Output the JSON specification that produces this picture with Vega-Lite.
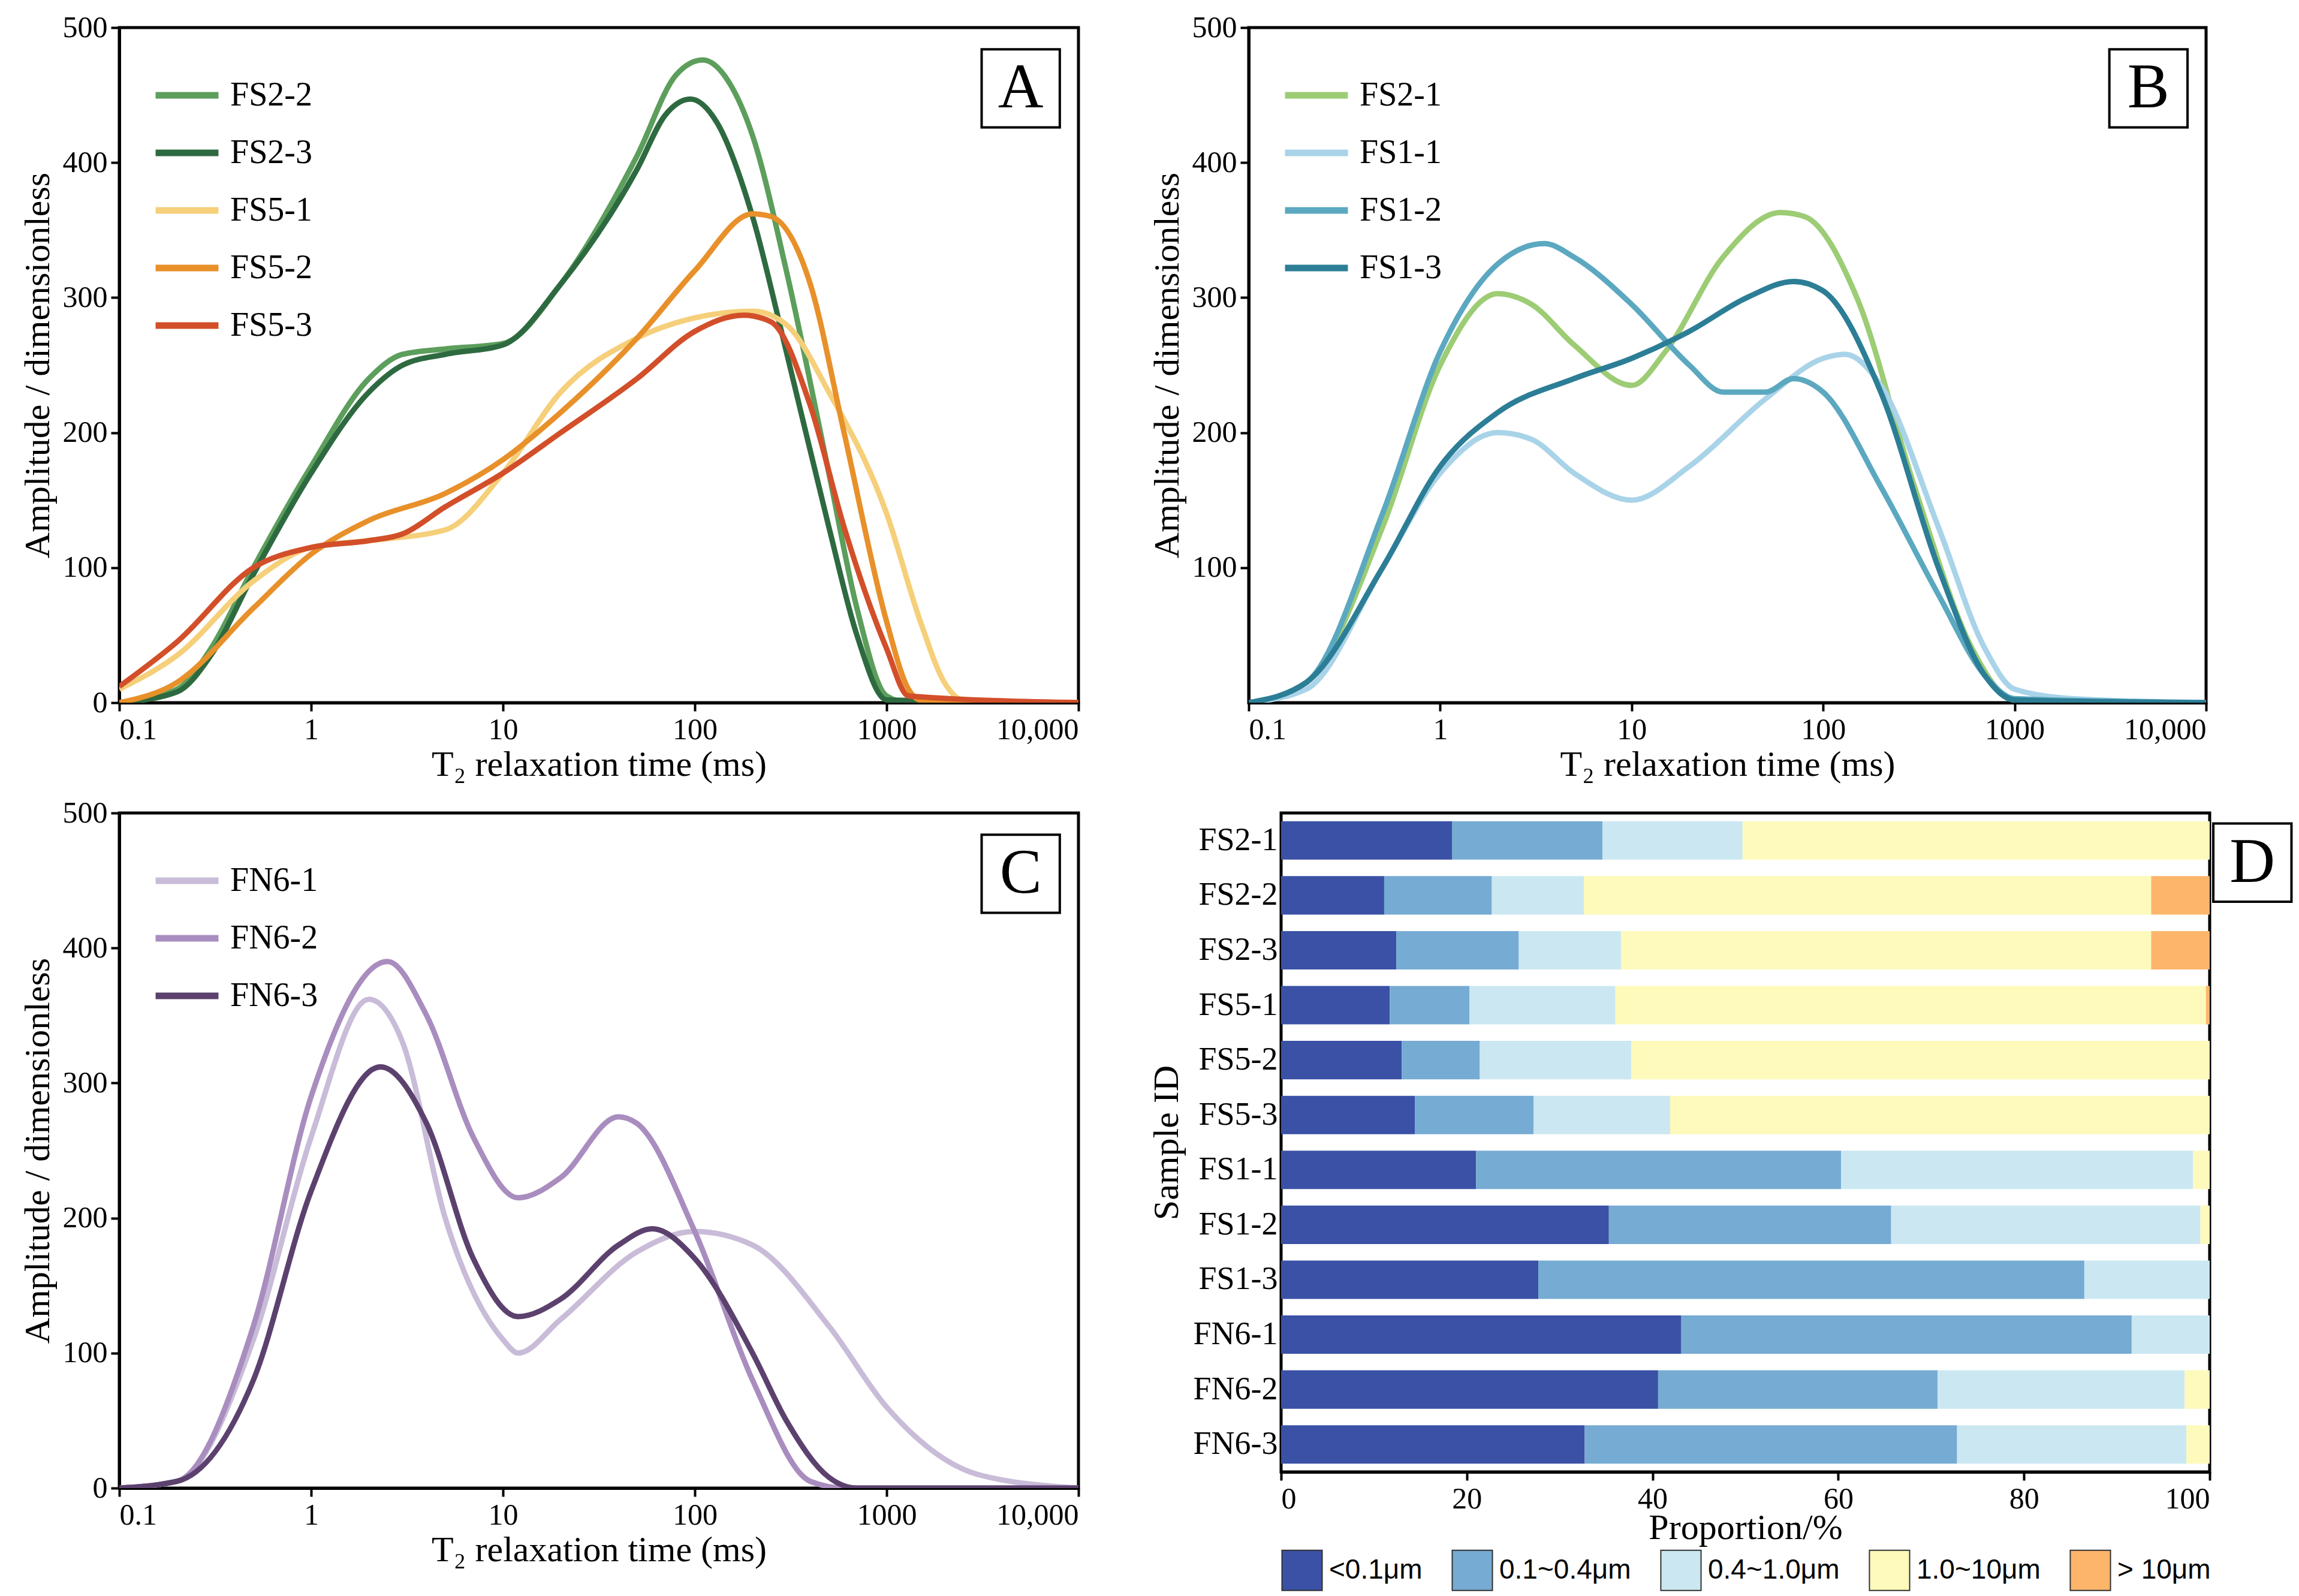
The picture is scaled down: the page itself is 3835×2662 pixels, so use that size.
{
  "$schema": "https://vega.github.io/schema/vega-lite/v6.json",
  "background": "white",
  "padding": {"left": 30, "top": 18, "right": 20, "bottom": 5},
  "config": {
    "font": "Liberation Serif",
    "view": {"stroke": "black", "strokeWidth": 5},
    "axis": {"grid": false, "domainColor": "black", "domainWidth": 5, "tickColor": "black", "tickWidth": 4, "tickSize": 14, "labelFontSize": 50, "titleFontSize": 60, "labelColor": "black", "titleColor": "black", "titleFontWeight": "normal", "labelPadding": 6},
    "legend": {"labelFontSize": 56, "labelColor": "black", "titleFontSize": 1, "labelLimit": 0}
  },
  "datasets": {
    "curves": [
      {"s":"FS2-2","t":0.1,"a":0},{"s":"FS2-2","t":0.2,"a":10},{"s":"FS2-2","t":0.3,"a":40},{"s":"FS2-2","t":0.5,"a":100},{"s":"FS2-2","t":1,"a":175},{"s":"FS2-2","t":2,"a":240},{"s":"FS2-2","t":3,"a":258},{"s":"FS2-2","t":5,"a":262},{"s":"FS2-2","t":10,"a":266},{"s":"FS2-2","t":20,"a":310},{"s":"FS2-2","t":50,"a":405},{"s":"FS2-2","t":80,"a":465},{"s":"FS2-2","t":110,"a":476},{"s":"FS2-2","t":150,"a":460},{"s":"FS2-2","t":200,"a":420},{"s":"FS2-2","t":300,"a":320},{"s":"FS2-2","t":500,"a":170},{"s":"FS2-2","t":700,"a":70},{"s":"FS2-2","t":1000,"a":5},{"s":"FS2-2","t":1300,"a":0},{"s":"FS2-2","t":10000,"a":0},
      {"s":"FS2-3","t":0.1,"a":0},{"s":"FS2-3","t":0.2,"a":8},{"s":"FS2-3","t":0.3,"a":35},{"s":"FS2-3","t":0.5,"a":95},{"s":"FS2-3","t":1,"a":170},{"s":"FS2-3","t":2,"a":230},{"s":"FS2-3","t":3,"a":250},{"s":"FS2-3","t":5,"a":258},{"s":"FS2-3","t":10,"a":265},{"s":"FS2-3","t":20,"a":310},{"s":"FS2-3","t":50,"a":395},{"s":"FS2-3","t":70,"a":435},{"s":"FS2-3","t":95,"a":447},{"s":"FS2-3","t":130,"a":430},{"s":"FS2-3","t":200,"a":360},{"s":"FS2-3","t":300,"a":260},{"s":"FS2-3","t":500,"a":130},{"s":"FS2-3","t":700,"a":50},{"s":"FS2-3","t":1000,"a":2},{"s":"FS2-3","t":10000,"a":0},
      {"s":"FS5-1","t":0.1,"a":10},{"s":"FS5-1","t":0.2,"a":35},{"s":"FS5-1","t":0.5,"a":90},{"s":"FS5-1","t":1,"a":115},{"s":"FS5-1","t":2,"a":120},{"s":"FS5-1","t":5,"a":128},{"s":"FS5-1","t":10,"a":170},{"s":"FS5-1","t":20,"a":230},{"s":"FS5-1","t":50,"a":270},{"s":"FS5-1","t":100,"a":285},{"s":"FS5-1","t":200,"a":290},{"s":"FS5-1","t":300,"a":280},{"s":"FS5-1","t":500,"a":230},{"s":"FS5-1","t":1000,"a":140},{"s":"FS5-1","t":1500,"a":60},{"s":"FS5-1","t":2000,"a":15},{"s":"FS5-1","t":2500,"a":2},{"s":"FS5-1","t":10000,"a":0},
      {"s":"FS5-2","t":0.1,"a":0},{"s":"FS5-2","t":0.2,"a":15},{"s":"FS5-2","t":0.5,"a":70},{"s":"FS5-2","t":1,"a":110},{"s":"FS5-2","t":2,"a":135},{"s":"FS5-2","t":5,"a":155},{"s":"FS5-2","t":10,"a":180},{"s":"FS5-2","t":20,"a":215},{"s":"FS5-2","t":50,"a":270},{"s":"FS5-2","t":100,"a":320},{"s":"FS5-2","t":200,"a":362},{"s":"FS5-2","t":250,"a":360},{"s":"FS5-2","t":400,"a":310},{"s":"FS5-2","t":600,"a":200},{"s":"FS5-2","t":1000,"a":60},{"s":"FS5-2","t":1300,"a":10},{"s":"FS5-2","t":1500,"a":2},{"s":"FS5-2","t":10000,"a":0},
      {"s":"FS5-3","t":0.1,"a":12},{"s":"FS5-3","t":0.2,"a":45},{"s":"FS5-3","t":0.5,"a":100},{"s":"FS5-3","t":1,"a":115},{"s":"FS5-3","t":2,"a":120},{"s":"FS5-3","t":3,"a":125},{"s":"FS5-3","t":5,"a":145},{"s":"FS5-3","t":10,"a":170},{"s":"FS5-3","t":20,"a":200},{"s":"FS5-3","t":50,"a":240},{"s":"FS5-3","t":100,"a":275},{"s":"FS5-3","t":180,"a":287},{"s":"FS5-3","t":250,"a":282},{"s":"FS5-3","t":400,"a":220},{"s":"FS5-3","t":600,"a":130},{"s":"FS5-3","t":1000,"a":40},{"s":"FS5-3","t":1300,"a":5},{"s":"FS5-3","t":10000,"a":0},
      {"s":"FS2-1","t":0.1,"a":0},{"s":"FS2-1","t":0.2,"a":15},{"s":"FS2-1","t":0.5,"a":130},{"s":"FS2-1","t":1,"a":250},{"s":"FS2-1","t":2,"a":303},{"s":"FS2-1","t":3,"a":295},{"s":"FS2-1","t":5,"a":265},{"s":"FS2-1","t":10,"a":235},{"s":"FS2-1","t":15,"a":260},{"s":"FS2-1","t":30,"a":330},{"s":"FS2-1","t":60,"a":363},{"s":"FS2-1","t":80,"a":360},{"s":"FS2-1","t":150,"a":300},{"s":"FS2-1","t":300,"a":160},{"s":"FS2-1","t":600,"a":40},{"s":"FS2-1","t":1000,"a":2},{"s":"FS2-1","t":10000,"a":0},
      {"s":"FS1-1","t":0.1,"a":0},{"s":"FS1-1","t":0.2,"a":10},{"s":"FS1-1","t":0.5,"a":100},{"s":"FS1-1","t":1,"a":170},{"s":"FS1-1","t":2,"a":200},{"s":"FS1-1","t":3,"a":195},{"s":"FS1-1","t":5,"a":170},{"s":"FS1-1","t":10,"a":150},{"s":"FS1-1","t":20,"a":175},{"s":"FS1-1","t":50,"a":225},{"s":"FS1-1","t":100,"a":255},{"s":"FS1-1","t":130,"a":258},{"s":"FS1-1","t":200,"a":235},{"s":"FS1-1","t":400,"a":130},{"s":"FS1-1","t":700,"a":40},{"s":"FS1-1","t":1000,"a":10},{"s":"FS1-1","t":2000,"a":3},{"s":"FS1-1","t":10000,"a":0},
      {"s":"FS1-2","t":0.1,"a":0},{"s":"FS1-2","t":0.2,"a":15},{"s":"FS1-2","t":0.5,"a":140},{"s":"FS1-2","t":1,"a":260},{"s":"FS1-2","t":2,"a":325},{"s":"FS1-2","t":3.5,"a":340},{"s":"FS1-2","t":5,"a":330},{"s":"FS1-2","t":10,"a":295},{"s":"FS1-2","t":20,"a":250},{"s":"FS1-2","t":30,"a":230},{"s":"FS1-2","t":50,"a":230},{"s":"FS1-2","t":70,"a":240},{"s":"FS1-2","t":100,"a":230},{"s":"FS1-2","t":200,"a":160},{"s":"FS1-2","t":400,"a":80},{"s":"FS1-2","t":700,"a":20},{"s":"FS1-2","t":1000,"a":3},{"s":"FS1-2","t":10000,"a":0},
      {"s":"FS1-3","t":0.1,"a":0},{"s":"FS1-3","t":0.2,"a":15},{"s":"FS1-3","t":0.5,"a":100},{"s":"FS1-3","t":1,"a":175},{"s":"FS1-3","t":2,"a":215},{"s":"FS1-3","t":5,"a":240},{"s":"FS1-3","t":10,"a":255},{"s":"FS1-3","t":20,"a":275},{"s":"FS1-3","t":40,"a":300},{"s":"FS1-3","t":70,"a":312},{"s":"FS1-3","t":100,"a":305},{"s":"FS1-3","t":200,"a":230},{"s":"FS1-3","t":400,"a":100},{"s":"FS1-3","t":700,"a":20},{"s":"FS1-3","t":1000,"a":2},{"s":"FS1-3","t":10000,"a":0},
      {"s":"FN6-1","t":0.1,"a":0},{"s":"FN6-1","t":0.2,"a":5},{"s":"FN6-1","t":0.5,"a":110},{"s":"FN6-1","t":1,"a":260},{"s":"FN6-1","t":2,"a":362},{"s":"FN6-1","t":3,"a":330},{"s":"FN6-1","t":5,"a":200},{"s":"FN6-1","t":10,"a":110},{"s":"FN6-1","t":12,"a":100},{"s":"FN6-1","t":20,"a":125},{"s":"FN6-1","t":50,"a":175},{"s":"FN6-1","t":100,"a":190},{"s":"FN6-1","t":200,"a":180},{"s":"FN6-1","t":500,"a":120},{"s":"FN6-1","t":1000,"a":60},{"s":"FN6-1","t":3000,"a":10},{"s":"FN6-1","t":10000,"a":0},
      {"s":"FN6-2","t":0.1,"a":0},{"s":"FN6-2","t":0.2,"a":5},{"s":"FN6-2","t":0.5,"a":120},{"s":"FN6-2","t":1,"a":290},{"s":"FN6-2","t":2.5,"a":390},{"s":"FN6-2","t":4,"a":350},{"s":"FN6-2","t":7,"a":260},{"s":"FN6-2","t":12,"a":215},{"s":"FN6-2","t":20,"a":230},{"s":"FN6-2","t":40,"a":275},{"s":"FN6-2","t":50,"a":270},{"s":"FN6-2","t":100,"a":190},{"s":"FN6-2","t":200,"a":80},{"s":"FN6-2","t":400,"a":5},{"s":"FN6-2","t":600,"a":0},{"s":"FN6-2","t":10000,"a":0},
      {"s":"FN6-3","t":0.1,"a":0},{"s":"FN6-3","t":0.2,"a":5},{"s":"FN6-3","t":0.5,"a":80},{"s":"FN6-3","t":1,"a":220},{"s":"FN6-3","t":2.3,"a":312},{"s":"FN6-3","t":4,"a":270},{"s":"FN6-3","t":7,"a":170},{"s":"FN6-3","t":12,"a":127},{"s":"FN6-3","t":20,"a":140},{"s":"FN6-3","t":40,"a":180},{"s":"FN6-3","t":60,"a":192},{"s":"FN6-3","t":100,"a":170},{"s":"FN6-3","t":200,"a":100},{"s":"FN6-3","t":300,"a":50},{"s":"FN6-3","t":500,"a":8},{"s":"FN6-3","t":700,"a":0},{"s":"FN6-3","t":10000,"a":0}
    ],
    "bars": [
      {"id":"FS2-1","a":18.4,"b":16.2,"c":15.1,"d":50.3,"e":0},
      {"id":"FS2-2","a":11.1,"b":11.6,"c":9.9,"d":61.1,"e":6.3},
      {"id":"FS2-3","a":12.4,"b":13.2,"c":11.0,"d":57.1,"e":6.3},
      {"id":"FS5-1","a":11.7,"b":8.6,"c":15.7,"d":63.6,"e":0.4},
      {"id":"FS5-2","a":13.0,"b":8.4,"c":16.3,"d":62.3,"e":0},
      {"id":"FS5-3","a":14.4,"b":12.8,"c":14.7,"d":58.1,"e":0},
      {"id":"FS1-1","a":21.0,"b":39.3,"c":37.9,"d":1.8,"e":0},
      {"id":"FS1-2","a":35.3,"b":30.4,"c":33.3,"d":1.0,"e":0},
      {"id":"FS1-3","a":27.7,"b":58.8,"c":13.5,"d":0,"e":0},
      {"id":"FN6-1","a":43.1,"b":48.5,"c":8.4,"d":0,"e":0},
      {"id":"FN6-2","a":40.6,"b":30.1,"c":26.6,"d":2.7,"e":0},
      {"id":"FN6-3","a":32.7,"b":40.1,"c":24.7,"d":2.5,"e":0}
    ]
  },
  "vconcat": [
    {
      "hconcat": [
        {
          "width": 1600, "height": 1126,
          "layer": [
            {
              "data": {"name": "curves"},
              "transform": [{"filter": {"field": "s", "oneOf": ["FS2-2","FS2-3","FS5-1","FS5-2","FS5-3"]}}],
              "mark": {"type": "line", "interpolate": "monotone", "strokeWidth": 9, "clip": true},
              "encoding": {
                "x": {"field": "t", "type": "quantitative", "scale": {"type": "log", "domain": [0.1, 10000]}, "title": "T₂ relaxation time (ms)", "axis": {"values": [0.1,1,10,100,1000,10000], "labelExpr": "datum.value == 10000 ? '10,000' : datum.value == 0.1 ? '0.1' : format(datum.value, 'd')", "titlePadding": 4}},
                "y": {"field": "a", "type": "quantitative", "scale": {"domain": [0, 500], "nice": false}, "title": "Amplitude / dimensionless", "axis": {"values": [0,100,200,300,400,500], "titlePadding": 10}},
                "color": {"field": "s", "type": "nominal", "scale": {"domain": ["FS2-2","FS2-3","FS5-1","FS5-2","FS5-3"], "range": ["#5c9e5c","#2e6a40","#f6cf7a","#e8902a","#d24f2a"]}, "legend": {"orient": "top-left", "title": null, "symbolType": "stroke", "symbolStrokeWidth": 11, "symbolSize": 11000, "rowPadding": 10, "labelOffset": 14, "offset": 55}}
              }
            },
            {
              "data": {"values": [{"x": 5000, "y": 455, "L": "A"}]},
              "layer": [
                {"mark": {"type": "point", "shape": "square", "size": 17000, "filled": false, "stroke": "black", "strokeWidth": 4, "opacity": 1}, "encoding": {"x": {"field": "x", "type": "quantitative"}, "y": {"field": "y", "type": "quantitative"}}},
                {"mark": {"type": "text", "fontSize": 105, "baseline": "middle", "align": "center"}, "encoding": {"x": {"field": "x", "type": "quantitative"}, "y": {"field": "y", "type": "quantitative"}, "text": {"field": "L"}}}
              ]
            }
          ]
        },
        {
          "width": 1597, "height": 1126,
          "layer": [
            {
              "data": {"name": "curves"},
              "transform": [{"filter": {"field": "s", "oneOf": ["FS2-1","FS1-1","FS1-2","FS1-3"]}}],
              "mark": {"type": "line", "interpolate": "monotone", "strokeWidth": 9, "clip": true},
              "encoding": {
                "x": {"field": "t", "type": "quantitative", "scale": {"type": "log", "domain": [0.1, 10000]}, "title": "T₂ relaxation time (ms)", "axis": {"values": [0.1,1,10,100,1000,10000], "labelExpr": "datum.value == 10000 ? '10,000' : datum.value == 0.1 ? '0.1' : format(datum.value, 'd')", "titlePadding": 4}},
                "y": {"field": "a", "type": "quantitative", "scale": {"domain": [0, 500], "nice": false}, "title": "Amplitude / dimensionless", "axis": {"values": [100,200,300,400,500], "titlePadding": 10}},
                "color": {"field": "s", "type": "nominal", "scale": {"domain": ["FS2-1","FS1-1","FS1-2","FS1-3"], "range": ["#9ccc74","#a9d3e8","#5ba8c0","#2c7e96"]}, "legend": {"orient": "top-left", "title": null, "symbolType": "stroke", "symbolStrokeWidth": 11, "symbolSize": 11000, "rowPadding": 10, "labelOffset": 14, "offset": 55}}
              }
            },
            {
              "data": {"values": [{"x": 5000, "y": 455, "L": "B"}]},
              "layer": [
                {"mark": {"type": "point", "shape": "square", "size": 17000, "filled": false, "stroke": "black", "strokeWidth": 4, "opacity": 1}, "encoding": {"x": {"field": "x", "type": "quantitative"}, "y": {"field": "y", "type": "quantitative"}}},
                {"mark": {"type": "text", "fontSize": 105, "baseline": "middle", "align": "center"}, "encoding": {"x": {"field": "x", "type": "quantitative"}, "y": {"field": "y", "type": "quantitative"}, "text": {"field": "L"}}}
              ]
            }
          ],
          "resolve": {"scale": {"color": "independent"}}
        }
      ],
      "spacing": 110,
      "resolve": {"scale": {"color": "independent"}}
    },
    {
      "hconcat": [
        {
          "width": 1600, "height": 1126,
          "layer": [
            {
              "data": {"name": "curves"},
              "transform": [{"filter": {"field": "s", "oneOf": ["FN6-1","FN6-2","FN6-3"]}}],
              "mark": {"type": "line", "interpolate": "monotone", "strokeWidth": 9, "clip": true},
              "encoding": {
                "x": {"field": "t", "type": "quantitative", "scale": {"type": "log", "domain": [0.1, 10000]}, "title": "T₂ relaxation time (ms)", "axis": {"values": [0.1,1,10,100,1000,10000], "labelExpr": "datum.value == 10000 ? '10,000' : datum.value == 0.1 ? '0.1' : format(datum.value, 'd')", "titlePadding": 4}},
                "y": {"field": "a", "type": "quantitative", "scale": {"domain": [0, 500], "nice": false}, "title": "Amplitude / dimensionless", "axis": {"values": [0,100,200,300,400,500], "titlePadding": 10}},
                "color": {"field": "s", "type": "nominal", "scale": {"domain": ["FN6-1","FN6-2","FN6-3"], "range": ["#c9bcd8","#a98dbf","#5c416e"]}, "legend": {"orient": "top-left", "title": null, "symbolType": "stroke", "symbolStrokeWidth": 11, "symbolSize": 11000, "rowPadding": 10, "labelOffset": 14, "offset": 55}}
              }
            },
            {
              "data": {"values": [{"x": 5000, "y": 455, "L": "C"}]},
              "layer": [
                {"mark": {"type": "point", "shape": "square", "size": 17000, "filled": false, "stroke": "black", "strokeWidth": 4, "opacity": 1}, "encoding": {"x": {"field": "x", "type": "quantitative"}, "y": {"field": "y", "type": "quantitative"}}},
                {"mark": {"type": "text", "fontSize": 105, "baseline": "middle", "align": "center"}, "encoding": {"x": {"field": "x", "type": "quantitative"}, "y": {"field": "y", "type": "quantitative"}, "text": {"field": "L"}}}
              ]
            }
          ]
        },
        {
          "width": 1549, "height": 1099,
          "layer": [
            {
              "data": {"name": "bars"},
              "transform": [{"fold": ["a","b","c","d","e"], "as": ["cls","v"]}],
              "mark": {"type": "bar"},
              "encoding": {
                "y": {"field": "id", "type": "nominal", "sort": null, "title": "Sample ID", "scale": {"paddingInner": 0.3, "paddingOuter": 0.15}, "axis": {"ticks": false, "domain": false, "labelFontSize": 54, "titlePadding": 12}},
                "x": {"field": "v", "type": "quantitative", "stack": "zero", "scale": {"domain": [0, 100], "nice": false}, "title": "Proportion/%", "axis": {"values": [0,20,40,60,80,100], "titlePadding": -6}},
                "order": {"field": "cls"},
                "color": {"field": "cls", "type": "nominal", "scale": {"domain": ["a","b","c","d","e"], "range": ["#3a51a6","#76abd3","#cbe8f2","#fefabb","#fdb56a"]}, "legend": {"orient": "bottom", "direction": "horizontal", "title": null, "symbolType": "square", "symbolSize": 4500, "symbolStrokeColor": "#333", "symbolStrokeWidth": 2, "symbolOpacity": 1, "labelFontSize": 46, "labelFont": "Liberation Sans", "labelOffset": 10, "columnPadding": 45, "offset": 6, "labelExpr": "{'a':'<0.1μm','b':'0.1~0.4μm','c':'0.4~1.0μm','d':'1.0~10μm','e':'> 10μm'}[datum.value]"}}
              }
            },
            {
              "data": {"values": [{"x": 104.6, "y": "FS2-1", "L": "D"}]},
              "layer": [
                {"mark": {"type": "point", "shape": "square", "size": 17000, "filled": false, "stroke": "black", "strokeWidth": 4, "opacity": 1, "clip": false, "yOffset": 37}, "encoding": {"x": {"field": "x", "type": "quantitative"}, "y": {"field": "y", "type": "nominal", "sort": null}}},
                {"mark": {"type": "text", "fontSize": 105, "baseline": "middle", "align": "center", "yOffset": 37}, "encoding": {"x": {"field": "x", "type": "quantitative"}, "y": {"field": "y", "type": "nominal", "sort": null}, "text": {"field": "L"}}}
              ]
            }
          ]
        }
      ],
      "spacing": 110,
      "resolve": {"scale": {"color": "independent"}}
    }
  ],
  "spacing": 20,
  "resolve": {"scale": {"color": "independent"}}
}
